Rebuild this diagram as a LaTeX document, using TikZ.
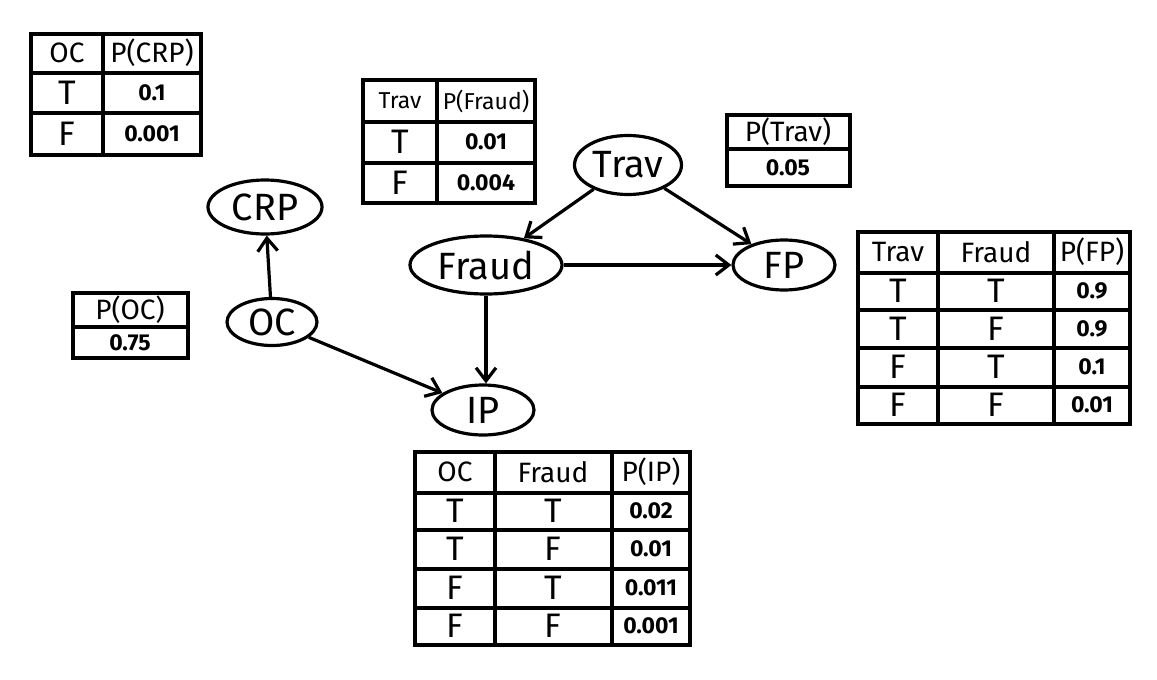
\documentclass[tikz,border=0pt]{standalone}
\usepackage{fontspec}
\setmainfont{Fira Sans}
\usetikzlibrary{arrows.meta,shapes.geometric}
\tikzset{
  var/.style={draw, ellipse, line width=1.6pt, inner sep=0pt, font=\fontsize{19}{22}\selectfont},
  arc/.style={line width=1.6pt, -{Straight Barb[length=6.5pt,width=10pt,line width=1.6pt]}},
  tbl/.style={line width=1.6pt},
  hdr/.style={inner sep=0pt, font=\fontsize{14}{16}\selectfont},
  hdrs/.style={inner sep=0pt, font=\fontsize{11.5}{13}\selectfont},
  lett/.style={inner sep=0pt, font=\fontsize{17}{19}\selectfont},
  num/.style={inner sep=0pt, font=\bfseries\fontsize{11.5}{13}\selectfont},
}
\begin{document}
\begin{tikzpicture}[x=0.5pt,y=-0.5pt]
\useasboundingbox (0,0) rectangle (1157,680);

% variables
\node[var, minimum width=57pt, minimum height=27pt] (crp) at (265,207) {CRP};
\node[var, minimum width=45pt, minimum height=23.5pt] (oc) at (272,322) {OC};
\node[var, minimum width=53.5pt, minimum height=29.5pt] (trav) at (628,165) {Trav};
\node[var, minimum width=76pt, minimum height=29pt] (fraud) at (486,265) {Fraud};
\node[var, minimum width=51pt, minimum height=25pt] (fp) at (784,265) {FP};
\node[var, minimum width=51pt, minimum height=25pt] (ip) at (483,410) {IP};

\draw[arc] (oc) -- (crp);
\draw[arc] (trav) -- (fraud);
\draw[arc] (trav) -- (fp);
\draw[arc] (fraud) -- (fp);
\draw[arc] (fraud.south) -- (ip.north -| fraud.south);
\draw[arc] (oc) -- (ip);

% table P(CRP|OC)
\draw[tbl] (31,34) rectangle (201,155);
\draw[tbl] (31,73) -- (201,73) (31,113) -- (201,113) (103,34) -- (103,155);
\node[hdr] (crph1) at (67,53) {OC};
\node[hdr] (crph2) at (152,53) {P(CRP)};
\node[lett] (crpa1) at (67,93) {T};
\node[num] (crpa2) at (152,93) {0.1};
\node[lett] (crpb1) at (67,134) {F};
\node[num] (crpb2) at (152,134) {0.001};

% table P(Fraud|Trav)
\draw[tbl] (363,80) rectangle (535,203);
\draw[tbl] (363,122) -- (535,122) (363,163) -- (535,163) (437,80) -- (437,203);
\node[hdrs] (frh1) at (400,101) {Trav};
\node[hdrs] (frh2) at (486,101) {P(Fraud)};
\node[lett] (fra1) at (400,142) {T};
\node[num] (fra2) at (486,142) {0.01};
\node[lett] (frb1) at (400,183) {F};
\node[num] (frb2) at (486,183) {0.004};

% table P(Trav)
\draw[tbl] (727,115) rectangle (850,186);
\draw[tbl] (727,149) -- (850,149);
\node[hdr] (trh) at (788,132) {P(Trav)};
\node[num] (trv) at (788,168) {0.05};

% table P(OC)
\draw[tbl] (73,293) rectangle (188,358);
\draw[tbl] (73,327) -- (188,327);
\node[hdr] (och) at (130,310) {P(OC)};
\node[num] (ocv) at (130,343) {0.75};

% table P(FP|Trav,Fraud)
\draw[tbl] (858,232) rectangle (1130,424);
\draw[tbl] (858,273) -- (1130,273) (858,310) -- (1130,310) (858,348) -- (1130,348) (858,387) -- (1130,387);
\draw[tbl] (938,232) -- (938,424) (1054,232) -- (1054,424);
\node[hdr] (fph1) at (898,252) {Trav};
\node[hdr] (fph2) at (996,252) {Fraud};
\node[hdr] (fph3) at (1092,252) {P(FP)};
\node[lett] (fpa1) at (898,291) {T};
\node[lett] (fpa2) at (996,291) {T};
\node[num] (fpa3) at (1092,291) {0.9};
\node[lett] (fpb1) at (898,329) {T};
\node[lett] (fpb2) at (996,329) {F};
\node[num] (fpb3) at (1092,329) {0.9};
\node[lett] (fpc1) at (898,367) {F};
\node[lett] (fpc2) at (996,367) {T};
\node[num] (fpc3) at (1092,367) {0.1};
\node[lett] (fpd1) at (898,405) {F};
\node[lett] (fpd2) at (996,405) {F};
\node[num] (fpd3) at (1092,405) {0.01};

% table P(IP|OC,Fraud)
\draw[tbl] (415,452) rectangle (690,645);
\draw[tbl] (415,493) -- (690,493) (415,530) -- (690,530) (415,569) -- (690,569) (415,608) -- (690,608);
\draw[tbl] (495,452) -- (495,645) (612,452) -- (612,645);
\node[hdr] (iph1) at (455,472) {OC};
\node[hdr] (iph2) at (553,472) {Fraud};
\node[hdr] (iph3) at (651,472) {P(IP)};
\node[lett] (ipa1) at (455,511) {T};
\node[lett] (ipa2) at (553,511) {T};
\node[num] (ipa3) at (651,511) {0.02};
\node[lett] (ipb1) at (455,549) {T};
\node[lett] (ipb2) at (553,549) {F};
\node[num] (ipb3) at (651,549) {0.01};
\node[lett] (ipc1) at (455,588) {F};
\node[lett] (ipc2) at (553,588) {T};
\node[num] (ipc3) at (651,588) {0.011};
\node[lett] (ipd1) at (455,626) {F};
\node[lett] (ipd2) at (553,626) {F};
\node[num] (ipd3) at (651,626) {0.001};
\end{tikzpicture}
\end{document}
